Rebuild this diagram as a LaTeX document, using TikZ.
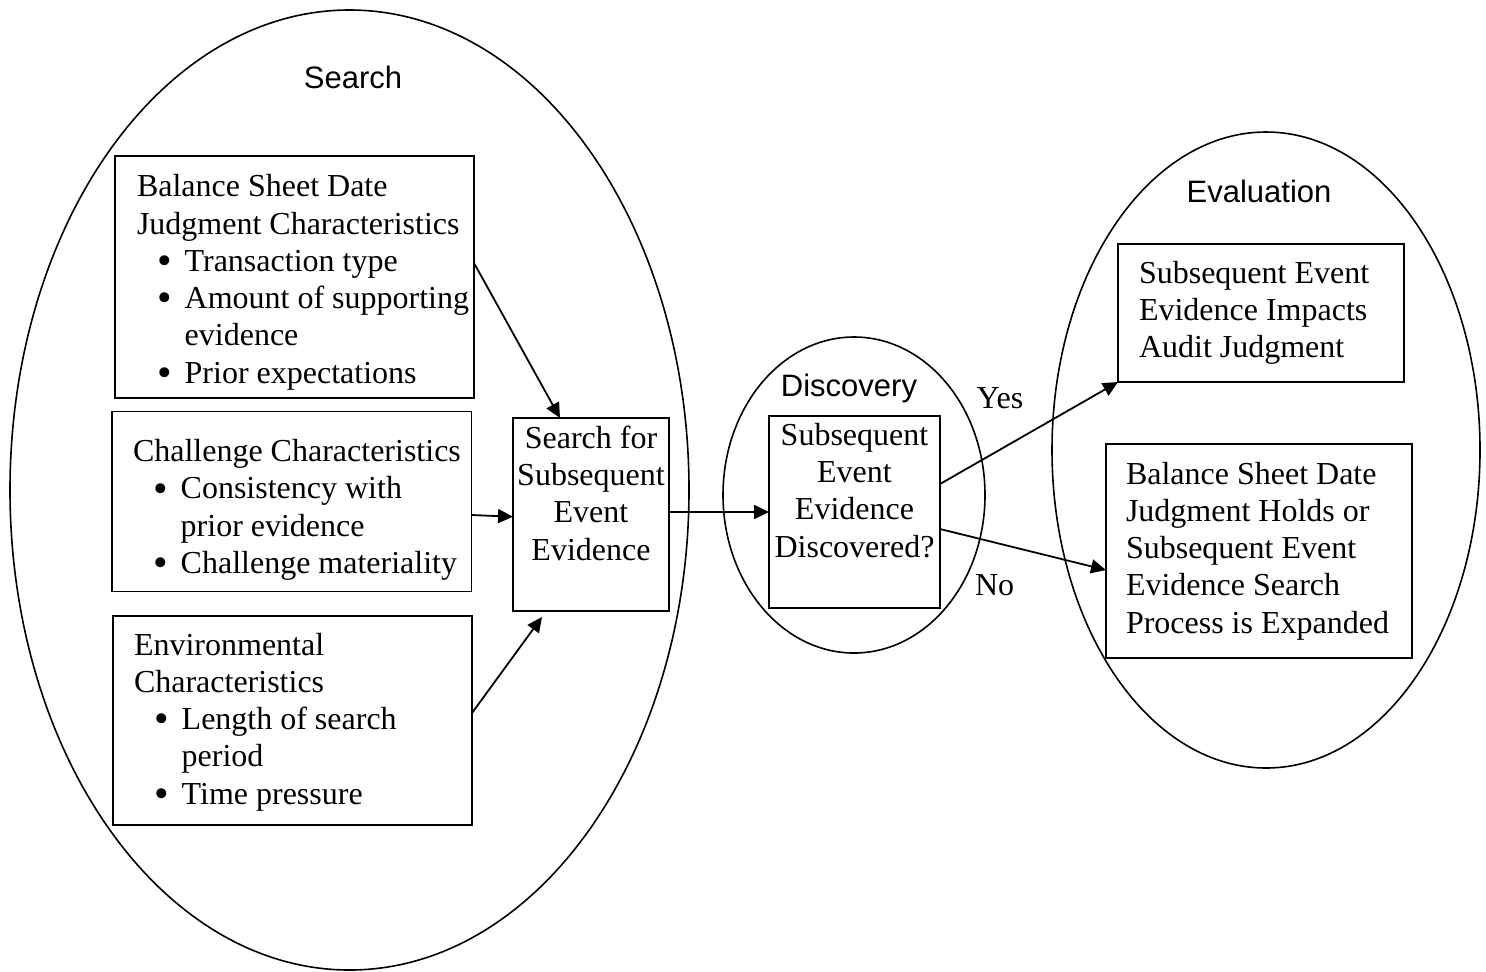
\documentclass[tikz,border=0pt]{standalone}
\usepackage{fontspec}
\setmainfont{Liberation Serif}
\newfontfamily\headfont{Liberation Sans}
\usepackage{graphicx}
\usetikzlibrary{arrows.meta}
\hfuzz=50pt
\newcommand\bl[1]{\mbox{\hspace*{10.2pt}\makebox[13.65pt][l]{\raisebox{-1.6pt}{\scalebox{1.3}{\textbullet}}}#1}}
\newcommand\cl[1]{\mbox{\hspace*{23.85pt}#1}}
\newcommand\fl{\rule{0pt}{14pt}}
% left-aligned box text: width, height, left inset, first baseline, content
\newcommand\lbox[5]{\parbox[c][#2][t]{#1}{\fontsize{16}{18.65}\selectfont\raggedright\leftskip=#3\relax\vspace*{\dimexpr#4-14pt\relax}\fl #5}}
% centred box text: width, height, first baseline, content
\newcommand\cbox[4]{\parbox[c][#2][t]{#1}{\fontsize{16}{18.65}\selectfont\centering\vspace*{\dimexpr#3-14pt\relax}\fl #4}}
\begin{document}
\begin{tikzpicture}[x=0.5pt,y=-0.5pt,
  every node/.style={inner sep=0pt, outer sep=0pt},
  box/.style={draw, line width=0.95pt, anchor=north west},
  region/.style={draw, line width=0.8pt},
  head/.style={font=\headfont\fontsize{15.5}{18}\selectfont},
  lab/.style={font=\fontsize{16}{18.65}\selectfont, anchor=base west},
  arr/.style={line width=0.9pt, -{Triangle[length=7.5pt,width=7pt]}}]
\useasboundingbox (0,0) rectangle (1486,971);

% regions
\draw[region] (349.5,490) ellipse [x radius=339.5, y radius=480];
\draw[region] (854,495) ellipse [x radius=131, y radius=158];
\draw[region] (1266,450) ellipse [x radius=214, y radius=318];

\node[head] (hs) at (353,77) {Search};
\node[head, anchor=base] (hd) at (849,396.7) {Discovery};
\node[head] (he) at (1259,191) {Evaluation};

% boxes
\node[box] (b1) at (115,156) {\lbox{179.5pt}{121pt}{11pt}{20.35pt}{%
  \mbox{Balance Sheet Date}\\
  \mbox{Judgment Characteristics}\\
  \bl{Transaction type}\\
  \bl{Amount of supporting}\\
  \cl{evidence}\\
  \bl{Prior expectations}}};

\node[box] (b2) at (112,411.5) {\lbox{179.75pt}{90pt}{10.5pt}{25pt}{%
  \mbox{Challenge Characteristics}\\
  \bl{Consistency with}\\
  \cl{prior evidence}\\
  \bl{Challenge materiality}}};

\node[box] (b3) at (113,616) {\lbox{179.5pt}{104.5pt}{10.5pt}{19.5pt}{%
  \mbox{Environmental}\\
  \mbox{Characteristics}\\
  \bl{Length of search}\\
  \cl{period}\\
  \bl{Time pressure}}};

\node[box] (b4) at (513,418) {\cbox{78pt}{96.5pt}{15.15pt}{%
  Search for\\ Subsequent\\ Event\\ Evidence}};

\node[box] (b5) at (769,416) {\cbox{85.5pt}{96pt}{14.65pt}{%
  Subsequent\\ Event\\ Evidence\\ Discovered?}};

\node[box] (b6) at (1118,244) {\lbox{143pt}{69pt}{10.5pt}{19.65pt}{%
  \mbox{Subsequent Event}\\
  \mbox{Evidence Impacts}\\
  \mbox{Audit Judgment}}};

\node[box] (b7) at (1106,444) {\lbox{153pt}{107pt}{10pt}{20pt}{%
  \mbox{Balance Sheet Date}\\
  \mbox{Judgment Holds or}\\
  \mbox{Subsequent Event}\\
  \mbox{Evidence Search}\\
  \mbox{Process is Expanded}}};

\node[lab] (yes) at (976.7,408.3) {Yes};
\node[lab] (no) at (975,595.7) {No};

% connectors
\draw[arr] ([yshift=7pt]b1.east) -- ([xshift=-15.5pt]b4.north);
\draw[arr] ([yshift=-6.75pt]b2.east) -- ([yshift=-1.1pt]b4.west);
\draw[arr] ([yshift=3.75pt]b3.east) -- ([xshift=-24.5pt,yshift=-3pt]b4.south);
\coordinate (a4s) at ([yshift=1.25pt]b4.east);
\draw[arr] (a4s) -- (a4s -| b5.west);
\draw[arr] ([yshift=14pt]b5.east) -- (b6.south west);
\draw[arr] ([yshift=-8.5pt]b5.east) -- ([yshift=-9.5pt]b7.west);
\end{tikzpicture}
\end{document}
